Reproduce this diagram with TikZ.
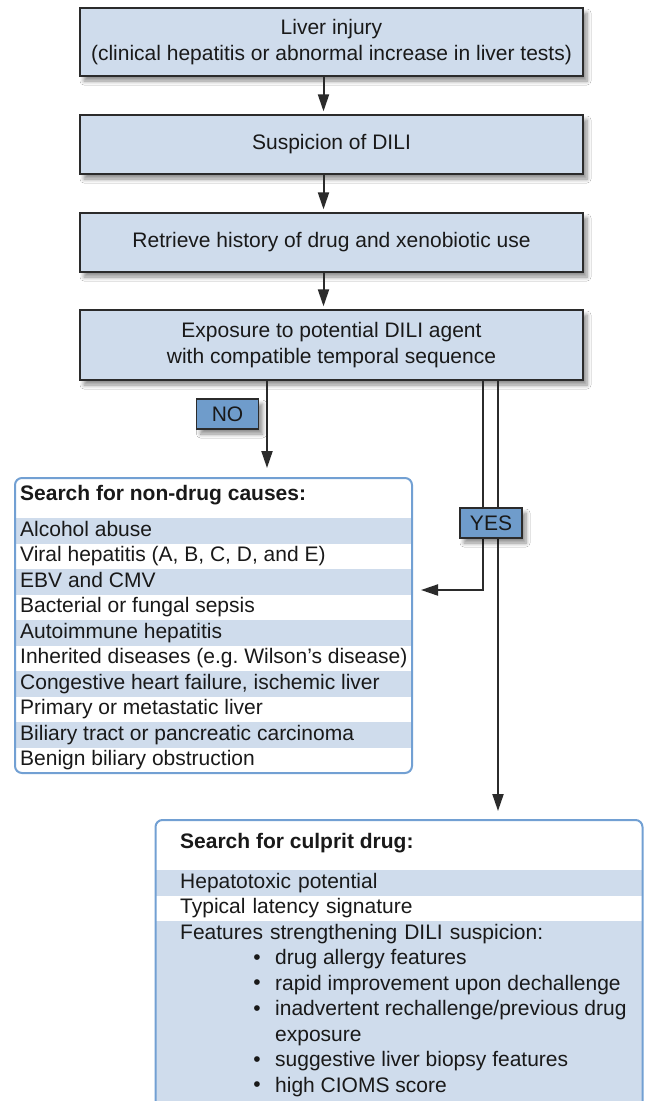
\documentclass[tikz,border=0pt]{standalone}
\usepackage{fontspec}
\setmainfont{Liberation Sans}
\usetikzlibrary{arrows.meta,shadows.blur}
\definecolor{boxblue}{HTML}{CFDCEC}
\definecolor{tagblue}{HTML}{6F9CCB}
\definecolor{frameblue}{HTML}{72A0D3}
\definecolor{linegray}{HTML}{2B2B2B}
\frenchspacing
\tikzset{
  txt/.style={font=\fontsize{21}{25.5}\selectfont, text=black!90},
  boldtxt/.style={font=\fontsize{21}{25.5}\selectfont\bfseries, text=black!90},
  softshadow/.style={blur shadow={shadow xshift=4pt, shadow yshift=-5pt, shadow blur radius=4pt, shadow blur steps=6, shadow opacity=45}},
  mainbox/.style={txt, draw=linegray, line width=1.3pt, fill=boxblue, minimum width=503pt, align=center, softshadow},
  tag/.style={txt, draw=linegray, line width=1.2pt, fill=tagblue, minimum width=62pt, minimum height=30pt, inner sep=0pt, softshadow},
  listbox/.style={draw=frameblue, line width=2pt, rounded corners=7pt, inner sep=0pt},
  ndrow/.style={txt, anchor=west, inner xsep=4pt, inner ysep=0pt, minimum height=25.5pt, text height=15pt, text depth=4.5pt},
  cdrow/.style={txt, anchor=west, inner xsep=24pt, inner ysep=0pt, text width=438pt, align=left, minimum height=25.5pt, text height=15pt, text depth=4.5pt},
  item/.style={txt, anchor=west, inner sep=0pt, text height=15pt, text depth=4.5pt},
  flow/.style={linegray, line width=2pt, -{Triangle[length=17pt,width=11pt]}}
}
\begin{document}
\begin{tikzpicture}[x=1pt,y=-1pt]
\fill[white] (0,0) rectangle (645,1101);
\useasboundingbox (0,0) rectangle (645,1101);

\node[mainbox, minimum height=68pt] (injury) at (331.5,42) {Liver injury\\(clinical hepatitis or abnormal increase in liver tests)};
\node[mainbox, minimum height=59pt] (suspicion) at (331.5,144.5) {Suspicion of DILI};
\node[mainbox, minimum height=59pt] (history) at (331.5,242.5) {Retrieve history of drug and xenobiotic use};
\node[mainbox, minimum height=70pt] (exposure) at (331.5,345) {Exposure to potential DILI agent\\with compatible temporal sequence};

\draw[flow, shorten >=3pt] ([xshift=-8pt]injury.south) -- ([xshift=-8pt]suspicion.north);
\draw[flow, shorten >=3pt] ([xshift=-8pt]suspicion.south) -- ([xshift=-8pt]history.north);
\draw[flow, shorten >=3pt] ([xshift=-8pt]history.south) -- ([xshift=-8pt]exposure.north);

% non-drug causes
\node[boldtxt, anchor=west, inner sep=0pt] (ndtitle) at (20,495) {Search for non-drug causes:};
\foreach \cause/\shade [count=\i] in {Alcohol abuse/boxblue, {Viral hepatitis (A, B, C, D, and E)}/white,
    EBV and CMV/boxblue, Bacterial or fungal sepsis/white, Autoimmune hepatitis/boxblue,
    Inherited diseases (e.g. Wilson’s disease)/white, {Congestive heart failure, ischemic liver}/boxblue,
    Primary or metastatic liver/white, Biliary tract or pancreatic carcinoma/boxblue,
    Benign biliary obstruction/white}
  \node[ndrow, fill=\shade] (cause\i) at (16,{505.25+25.5*\i}) {\makebox[388pt][l]{\cause}};
\node[listbox, minimum width=397pt, minimum height=295pt] (nondrug) at (213.5,625.5) {};

% culprit drug
\node[boldtxt, anchor=west, inner sep=0pt] (cdtitle) at (180,843) {Search for culprit drug:};
\node[cdrow, fill=boxblue] (hepatotox) at (156,882.75) {Hepatotoxic potential};
\node[cdrow, fill=white] (latency) at (156,908.25) {Typical latency signature};
\node[fill=boxblue, anchor=north west, inner sep=0pt, minimum width=486pt, minimum height=199pt] (featbg) at (156,921) {};
\node[cdrow] (features) at (156,933.75) {Features strengthening DILI suspicion:};
\foreach \y/\mark/\feat [count=\i] in {959.25/\textbullet/drug allergy features,
    984.75/\textbullet/rapid improvement upon dechallenge,
    1010.25/\textbullet/{inadvertent rechallenge/previous drug},
    1035.75//exposure,
    1061.25/\textbullet/suggestive liver biopsy features,
    1086.75/\textbullet/high CIOMS score}{
  \node[txt, inner sep=0pt] (dot\i) at (257,\y) {\mark};
  \node[item] (feat\i) at (275,\y) {\feat};
}
\node[listbox, minimum width=487pt, minimum height=300pt] (culprit) at (399,970) {};

% branches
\coordinate (nodrop) at (267,468);
\coordinate (yesturn) at (483,590);
\coordinate (yesdrop) at (498,812);
\draw[flow] (exposure.south -| nodrop) -- (nodrop);
\draw[flow, shorten >=8pt] (exposure.south -| yesturn) -- (yesturn) -- (yesturn -| nondrug.east);
\draw[flow, shorten >=8pt] (exposure.south -| yesdrop) -- (yesdrop |- culprit.north);

\node[tag] (no) at (227.5,414) {NO};
\node[tag] (yes) at (491,523) {YES};
\end{tikzpicture}
\end{document}
